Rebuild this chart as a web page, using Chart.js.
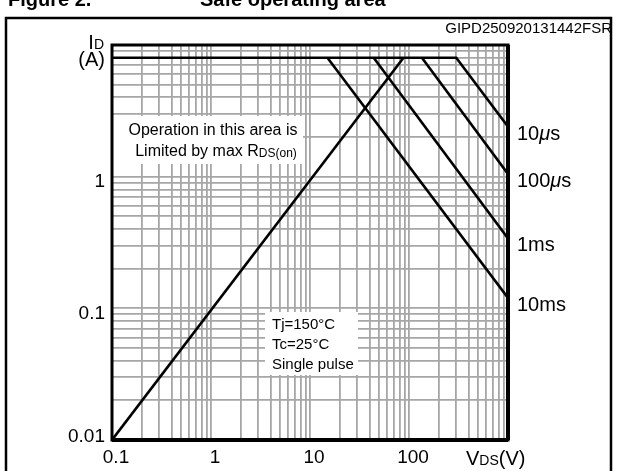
<!DOCTYPE html>
<html>
<head>
<meta charset="utf-8">
<script src="https://cdn.jsdelivr.net/npm/chart.js@4.4.1/dist/chart.umd.min.js"></script>
<style>
  html, body { margin: 0; padding: 0; background: #fff; }
  #wrap { width: 617px; height: 471px; }
</style>
</head>
<body>
<div id="wrap"><canvas id="soa" width="617" height="471"></canvas></div>
<script>
// grid positions of the log axes (every 1..9 x 10^n)
const xGridValues = [0.1, 0.2, 0.3, 0.4, 0.5, 0.6, 0.7, 0.8, 0.9,
    1, 2, 3, 4, 5, 6, 7, 8, 9,
    10, 20, 30, 40, 50, 60, 70, 80, 90,
    100, 200, 300, 400, 500, 600, 700, 800, 900, 1000];
const yGridValues = [0.01, 0.02, 0.03, 0.04, 0.05, 0.06, 0.07, 0.08, 0.09,
    0.1, 0.2, 0.3, 0.4, 0.5, 0.6, 0.7, 0.8, 0.9,
    1, 2, 3, 4, 5, 6, 7, 8, 9, 10];

// tick labels
const xLabelValues = [0.1, 1, 10, 100];
const xLabelText = ['0.1', '1', '10', '100'];
const yLabelValues = [0.01, 0.1, 1];
const yLabelText = ['0.01', '0.1', '1'];

// SOA curves: VDS (V) and ID (A)
const rdsLimitV = [0.1, 88];
const rdsLimitI = [0.01, 8];
const pulse10usV = [0.1, 300, 1000];
const pulse10usI = [8, 8, 2.4];
const pulse100usV = [135, 1000];
const pulse100usI = [8, 1.05];
const pulse1msV = [44, 1000];
const pulse1msI = [8, 0.34];
const pulse10msV = [15, 1000];
const pulse10msI = [8, 0.12];

const FONT = '"Liberation Sans", Arial, Helvetica, sans-serif';

function toPoints(xs, ys) {
    return xs.map((x, i) => ({ x: x, y: ys[i] }));
}

function lineSet(label, xs, ys) {
    return {
        label: label,
        data: toPoints(xs, ys),
        showLine: true,
        borderColor: '#000',
        borderWidth: 2.6,
        pointRadius: 0,
        fill: false
    };
}

// draws text made of pieces with different sizes / styles on one baseline
function drawParts(ctx, parts, x, y, align) {
    let total = 0;
    parts.forEach(p => {
        ctx.font = (p.style || '') + ' ' + p.size + 'px ' + FONT;
        p.w = ctx.measureText(p.t).width;
        total += p.w;
    });
    let cx = x;
    if (align === 'right') cx = x - total;
    if (align === 'center') cx = x - total / 2;
    ctx.textAlign = 'left';
    ctx.textBaseline = 'alphabetic';
    parts.forEach(p => {
        ctx.font = (p.style || '') + ' ' + p.size + 'px ' + FONT;
        ctx.fillText(p.t, cx, y + (p.dy || 0));
        cx += p.w;
    });
}

const decor = {
    id: 'decor',
    beforeDraw(chart) {
        const ctx = chart.ctx;
        ctx.save();
        ctx.fillStyle = '#fff';
        ctx.fillRect(0, 0, chart.width, chart.height);
        // figure title, cut off by the top of the picture
        ctx.fillStyle = '#000';
        ctx.font = 'bold 20px ' + FONT;
        ctx.textBaseline = 'alphabetic';
        ctx.fillText('Figure 2.', 8, 6);
        ctx.fillText('Safe operating area', 200, 6);
        // outer frame
        ctx.strokeStyle = '#000';
        ctx.lineWidth = 2.5;
        ctx.beginPath();
        ctx.moveTo(6, 480);
        ctx.lineTo(6, 18);
        ctx.lineTo(611, 18);
        ctx.lineTo(611, 480);
        ctx.stroke();
        ctx.font = '15px ' + FONT;
        ctx.textAlign = 'right';
        ctx.fillText('GIPD250920131442FSR', 612, 33);
        ctx.restore();
    },
    beforeDatasetsDraw(chart) {
        const ctx = chart.ctx;
        const a = chart.chartArea;
        ctx.save();
        ctx.fillStyle = '#fff';
        ctx.fillRect(a.left, 116, 191, 48);
        ctx.fillRect(265, 312, 93, 63);
        ctx.fillStyle = '#000';
        ctx.textAlign = 'center';
        ctx.textBaseline = 'middle';
        ctx.font = '16px ' + FONT;
        ctx.fillText('Operation in this area is', 213, 131);
        drawParts(ctx, [
            { t: 'Limited by max R', size: 16 },
            { t: 'DS(on)', size: 12, dy: 1 }
        ], 216, 156, 'center');
        ctx.textAlign = 'left';
        ctx.textBaseline = 'middle';
        ctx.font = '15px ' + FONT;
        ctx.fillText('Tj=150°C', 272, 325);
        ctx.fillText('Tc=25°C', 272, 345);
        ctx.fillText('Single pulse', 272, 365);
        ctx.restore();
    },
    afterDatasetsDraw(chart) {
        const ctx = chart.ctx;
        const a = chart.chartArea;
        const xs = chart.scales.x;
        const ys = chart.scales.y;
        ctx.save();
        // plot frame
        ctx.strokeStyle = '#000';
        ctx.lineWidth = 3;
        ctx.strokeRect(a.left, a.top, a.right - a.left, a.bottom - a.top);
        ctx.lineWidth = 4;
        ctx.beginPath();
        ctx.moveTo(a.right, a.top);
        ctx.lineTo(a.right, a.bottom);
        ctx.moveTo(a.left, a.bottom);
        ctx.lineTo(a.right, a.bottom);
        ctx.stroke();

        ctx.fillStyle = '#000';
        ctx.font = '19px ' + FONT;
        ctx.textBaseline = 'middle';
        ctx.textAlign = 'center';
        xLabelValues.forEach((v, i) => {
            ctx.fillText(xLabelText[i], xs.getPixelForValue(v) + 4, a.bottom + 18);
        });
        ctx.textAlign = 'right';
        yLabelValues.forEach((v, i) => {
            const py = Math.min(ys.getPixelForValue(v) + 5, a.bottom - 3);
            ctx.fillText(yLabelText[i], a.left - 7, py);
        });
        // axis titles
        drawParts(ctx, [{ t: 'I', size: 20 }, { t: 'D', size: 14 }], a.left - 8, a.top + 4, 'right');
        drawParts(ctx, [{ t: '(A)', size: 20 }], a.left - 7, a.top + 21, 'right');
        drawParts(ctx, [
            { t: 'V', size: 20 },
            { t: 'DS', size: 14 },
            { t: '(V)', size: 20 }
        ], 466, a.bottom + 25, 'left');

        // pulse duration labels at the end of each curve
        const ends = [
            [pulse10usI[pulse10usI.length - 1], [{ t: '10', size: 20 }, { t: 'μ', size: 20, style: 'italic' }, { t: 's', size: 20 }]],
            [pulse100usI[1], [{ t: '100', size: 20 }, { t: 'μ', size: 20, style: 'italic' }, { t: 's', size: 20 }]],
            [pulse1msI[1], [{ t: '1ms', size: 20 }]],
            [pulse10msI[1], [{ t: '10ms', size: 20 }]]
        ];
        ends.forEach(e => {
            drawParts(ctx, e[1], a.right + 9, ys.getPixelForValue(e[0]) + 13, 'left');
        });
        ctx.restore();
    }
};

const gridStyle = {
    color: '#a6a6a6',
    lineWidth: 1.8,
    drawTicks: false
};

new Chart(document.getElementById('soa'), {
    type: 'scatter',
    data: {
        datasets: [
            lineSet('RDS(on) limit', rdsLimitV, rdsLimitI),
            lineSet('10us', pulse10usV, pulse10usI),
            lineSet('100us', pulse100usV, pulse100usI),
            lineSet('1ms', pulse1msV, pulse1msI),
            lineSet('10ms', pulse10msV, pulse10msI)
        ]
    },
    options: {
        responsive: false,
        animation: false,
        devicePixelRatio: 1,
        layout: { padding: { left: 112, right: 109, top: 45, bottom: 31 } },
        plugins: { legend: { display: false }, tooltip: { enabled: false } },
        scales: {
            x: {
                type: 'logarithmic',
                min: 0.1,
                max: 1000,
                afterBuildTicks: s => { s.ticks = xGridValues.map(v => ({ value: v })); },
                ticks: { display: false },
                grid: gridStyle,
                border: { display: false }
            },
            y: {
                type: 'logarithmic',
                min: 0.01,
                max: 10,
                afterBuildTicks: s => { s.ticks = yGridValues.map(v => ({ value: v })); },
                ticks: { display: false },
                grid: gridStyle,
                border: { display: false }
            }
        }
    },
    plugins: [decor]
});
</script>
</body>
</html>
